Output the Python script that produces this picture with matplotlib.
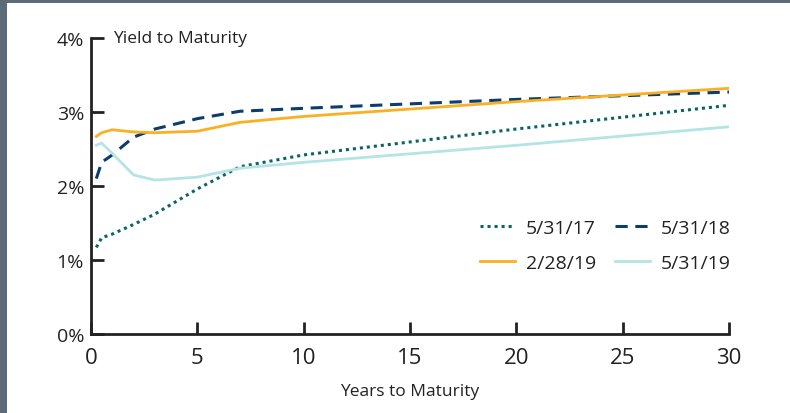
import matplotlib.pyplot as plt
from matplotlib.patches import Rectangle

plt.rcParams['font.family'] = ['Open Sans', 'DejaVu Sans']

# maturities in years and yields in %
years = [0.25, 0.5, 1, 2, 3, 5, 7, 10, 20, 30]
y_2017 = [1.17, 1.30, 1.35, 1.48, 1.62, 1.96, 2.26, 2.42, 2.77, 3.09]
y_2018 = [2.10, 2.32, 2.42, 2.66, 2.77, 2.91, 3.01, 3.05, 3.17, 3.27]
y_feb19 = [2.67, 2.72, 2.76, 2.73, 2.72, 2.74, 2.86, 2.94, 3.14, 3.32]
y_may19 = [2.55, 2.58, 2.44, 2.15, 2.08, 2.12, 2.24, 2.32, 2.55, 2.80]

fig = plt.figure(figsize=(7.9, 4.14), dpi=100, facecolor='#5c6b78')
fig.patches.append(Rectangle((7/790, 0), 1, 1 - 4/414, transform=fig.transFigure,
                             facecolor='white', edgecolor='none', zorder=-10))
ax = fig.add_axes([91/790, 1 - 335/414, (729 - 91)/790, (335 - 39)/414])
ax.set_facecolor('none')

l17, = ax.plot(years, y_2017, color='#0d6466', lw=2.2, ls=(0, (1, 1.3)), label='5/31/17')
l18, = ax.plot(years, y_2018, color='#0b3d6e', lw=2.2, ls=(0, (4, 2.5)), label='5/31/18')
lf19, = ax.plot(years, y_feb19, color='#fbb023', lw=2.0, label='2/28/19')
lm19, = ax.plot(years, y_may19, color='#b4e4e3', lw=2.0, label='5/31/19')

ax.set_xlim(0, 30)
ax.set_ylim(0, 4)
ax.set_xticks([0, 5, 10, 15, 20, 25, 30])
ax.set_yticks([0, 1, 2, 3, 4])
ax.set_yticklabels(['0%', '1%', '2%', '3%', '4%'])
for s in ['top', 'right']:
    ax.spines[s].set_visible(False)
for s in ['left', 'bottom']:
    ax.spines[s].set_linewidth(2)
    ax.spines[s].set_color('#222222')
ax.tick_params(axis='both', direction='in', length=9, width=2, color='#222222')
ax.tick_params(axis='x', labelsize=16, pad=9, labelcolor='#222222')
ax.tick_params(axis='y', labelsize=14, pad=5, labelcolor='#222222')

ax.set_xlabel('Years to Maturity', fontsize=12.5, color='#222222', labelpad=11)
ax.text(1.03, 4, 'Yield to Maturity', fontsize=12.5, color='#222222', va='center', ha='left')

ax.legend([l17, lf19, l18, lm19], ['5/31/17', '2/28/19', '5/31/18', '5/31/19'],
          loc='upper left', bbox_to_anchor=(0.61, 0.39), ncol=2, frameon=False,
          borderpad=0, borderaxespad=0,
          fontsize=14, handlelength=1.8, columnspacing=1.0, handletextpad=0.55,
          labelspacing=0.9, labelcolor='#222222')

fig.savefig('out.png', dpi=100, facecolor=fig.get_facecolor())
